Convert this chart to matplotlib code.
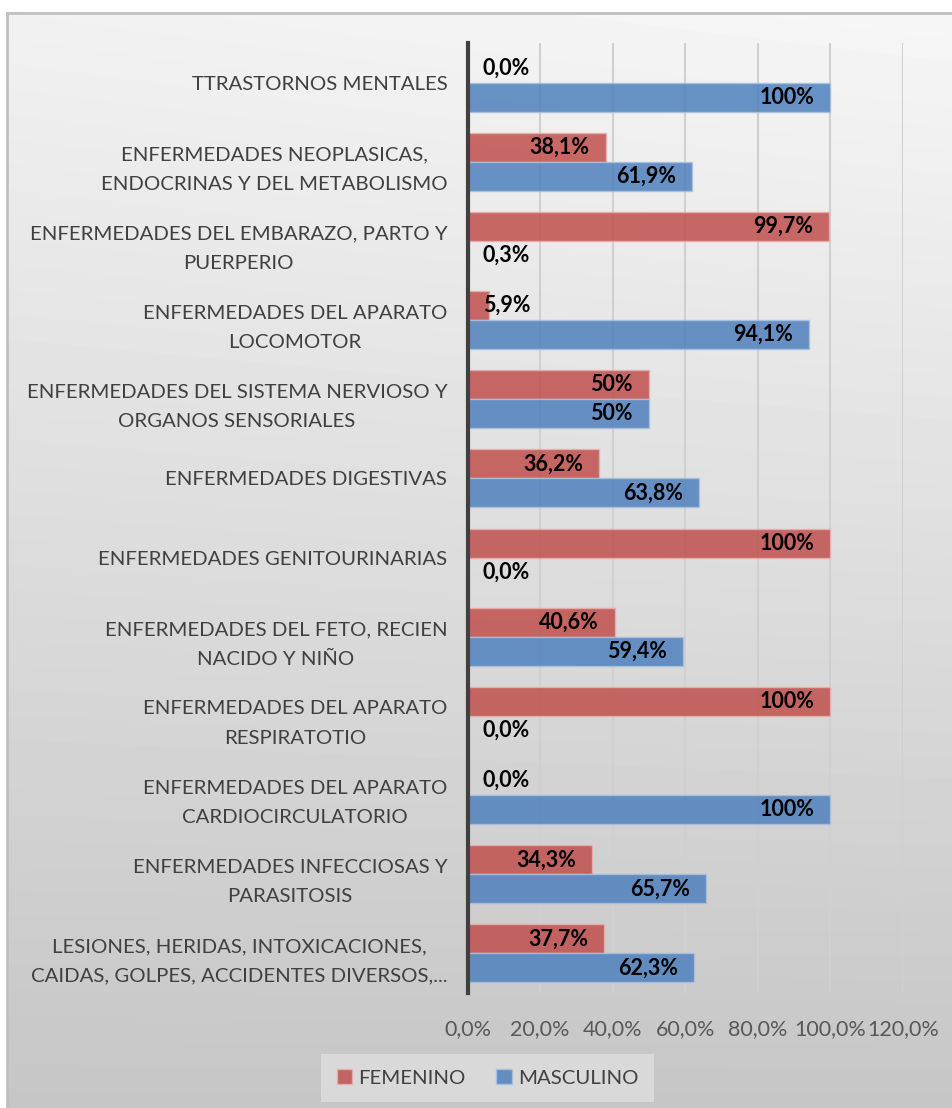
import numpy as np
import matplotlib
matplotlib.use("Agg")
import matplotlib.pyplot as plt
from matplotlib.patches import Patch

plt.rcParams['font.family'] = ['Lato', 'DejaVu Sans']

# data, top to bottom as shown
categorias = [
    "TTRASTORNOS MENTALES",
    "ENFERMEDADES NEOPLASICAS,\nENDOCRINAS Y DEL METABOLISMO",
    "ENFERMEDADES DEL EMBARAZO, PARTO Y\nPUERPERIO",
    "ENFERMEDADES DEL APARATO\nLOCOMOTOR",
    "ENFERMEDADES DEL SISTEMA NERVIOSO Y\nORGANOS SENSORIALES",
    "ENFERMEDADES DIGESTIVAS",
    "ENFERMEDADES GENITOURINARIAS",
    "ENFERMEDADES DEL FETO, RECIEN\nNACIDO Y NIÑO",
    "ENFERMEDADES DEL APARATO\nRESPIRATOTIO",
    "ENFERMEDADES DEL APARATO\nCARDIOCIRCULATORIO",
    "ENFERMEDADES INFECCIOSAS Y\nPARASITOSIS",
    "LESIONES, HERIDAS, INTOXICACIONES,\nCAIDAS, GOLPES, ACCIDENTES DIVERSOS,...",
]
femenino = [0.0, 38.1, 99.7, 5.9, 50, 36.2, 100, 40.6, 100, 0.0, 34.3, 37.7]
masculino = [100, 61.9, 0.3, 94.1, 50, 63.8, 0.0, 59.4, 0.0, 100, 65.7, 62.3]
etiq_fem = ["0,0%", "38,1%", "99,7%", "5,9%", "50%", "36,2%", "100%", "40,6%",
            "100%", "0,0%", "34,3%", "37,7%"]
etiq_mas = ["100%", "61,9%", "0,3%", "94,1%", "50%", "63,8%", "0,0%", "59,4%",
            "0,0%", "100%", "65,7%", "62,3%"]
ticks = [0, 20, 40, 60, 80, 100, 120]
tick_labels = ["0,0%", "20,0%", "40,0%", "60,0%", "80,0%", "100,0%", "120,0%"]

ROJO = "#c0504d"
AZUL = "#4f81bd"

W, H = 952, 1108
fig = plt.figure(figsize=(W / 100, H / 100), dpi=100)

# chart area background: soft grey gradient with a thin border
bg = fig.add_axes([7 / W, 0, 1 - 7 / W, 1 - 13 / H])
yy, xx = np.mgrid[0:1:200j, 0:1:200j]
shade = 0.945 - 0.17 * yy + 0.02 * xx * (1 - yy)
bg.imshow(shade, cmap="gray", vmin=0, vmax=1, aspect="auto",
          extent=[0, 1, 1, 0], interpolation="bilinear")
bg.set_xlim(0, 1)
bg.set_ylim(1, 0)
bg.set_xticks([])
bg.set_yticks([])
for side in ("right", "bottom"):
    bg.spines[side].set_visible(False)
for side in ("top", "left"):
    bg.spines[side].set_color("#c0c0c0")
    bg.spines[side].set_linewidth(2)

ax = fig.add_axes([467.5 / W, 1 - 993 / H, (903 - 467.5) / W, (993 - 43) / H])
ax.set_facecolor("none")

n = len(categorias)
y = np.arange(n)
h = 0.366

ax.barh(y - h / 2, femenino, height=h, color=ROJO, alpha=0.85,
        edgecolor="#e8b0ae", linewidth=1, zorder=3, label="FEMENINO")
ax.barh(y + h / 2, masculino, height=h, color=AZUL, alpha=0.85,
        edgecolor="#a9c2e0", linewidth=1, zorder=3, label="MASCULINO")

def etiqueta(val, txt, ypos):
    if val < 10:
        ax.text(4.2, ypos, txt, ha="left", va="center", fontsize=15.5,
                fontweight="bold", color="black", zorder=4)
    else:
        ax.text(val - 4.4, ypos, txt, ha="right", va="center", fontsize=15.5,
                fontweight="bold", color="black", zorder=4)

for i in range(n):
    etiqueta(femenino[i], etiq_fem[i], y[i] - h / 2)
    etiqueta(masculino[i], etiq_mas[i], y[i] + h / 2)

ax.set_xlim(0, 120)
ax.set_ylim(n - 0.5, -0.5)
ax.set_xticks(ticks)
ax.set_xticklabels(tick_labels, fontsize=15.5, color="#595959")
ax.set_yticks(y)
ax.set_yticklabels(categorias, fontsize=14.7, color="#404040",
                   multialignment="center", linespacing=1.9)
ax.tick_params(axis="y", length=0, pad=14.5)
ax.tick_params(axis="x", length=0, pad=19)
ax.grid(axis="x", color="#d0d0d0", linewidth=1.5, zorder=0)
ax.set_axisbelow(True)
for side in ("top", "right", "bottom"):
    ax.spines[side].set_visible(False)
ax.spines["left"].set_color("#404040")
ax.spines["left"].set_linewidth(3)
ax.spines["left"].set_zorder(5)

handles = [Patch(facecolor=ROJO, edgecolor="#e8b0ae", alpha=0.85, label="FEMENINO"),
           Patch(facecolor=AZUL, edgecolor="#a9c2e0", alpha=0.85, label="MASCULINO")]
leg = fig.legend(handles=handles, loc="center", bbox_to_anchor=(487.5 / W, 1 - 1078 / H),
                 ncol=2, frameon=True, fontsize=14.7, handlelength=0.75, handleheight=0.75,
                 handletextpad=0.3, columnspacing=1.5, borderpad=0.75, fancybox=False)
leg.get_frame().set_facecolor("#d9d9d9")
leg.get_frame().set_edgecolor("none")
leg.get_frame().set_alpha(1)
for t in leg.get_texts():
    t.set_color("#404040")

fig.savefig("out.png", dpi=100)
